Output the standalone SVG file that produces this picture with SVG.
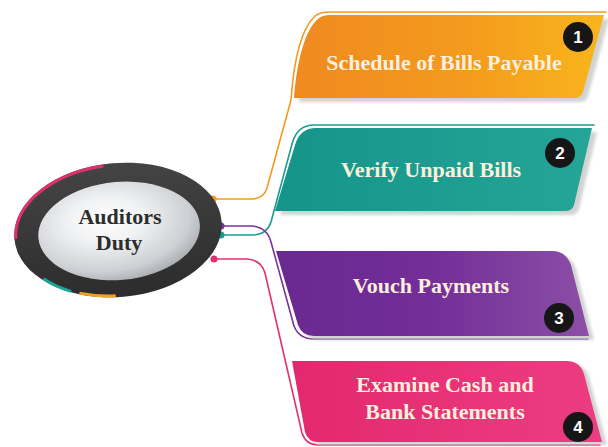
<svg xmlns="http://www.w3.org/2000/svg" width="608" height="447" viewBox="0 0 608 447">
<defs>
<linearGradient id="gOr" x1="0" y1="0" x2="1" y2="0"><stop offset="0" stop-color="#ef8a1f"/><stop offset="0.55" stop-color="#f49a1e"/><stop offset="1" stop-color="#f8b51c"/></linearGradient>
<linearGradient id="gTe" x1="0" y1="0" x2="1" y2="0"><stop offset="0" stop-color="#15958a"/><stop offset="1" stop-color="#24a597"/></linearGradient>
<linearGradient id="gPu" x1="0" y1="0" x2="1" y2="0"><stop offset="0" stop-color="#6a2891"/><stop offset="0.5" stop-color="#732e98"/><stop offset="1" stop-color="#8c4ea6"/></linearGradient>
<linearGradient id="gPi" x1="0" y1="0" x2="1" y2="0"><stop offset="0" stop-color="#e3286f"/><stop offset="1" stop-color="#ec3d82"/></linearGradient>
<linearGradient id="gRing" x1="0" y1="0" x2="0" y2="1"><stop offset="0" stop-color="#444"/><stop offset="1" stop-color="#2c2c2c"/></linearGradient>
<radialGradient id="gIn" cx="0.42" cy="0.38" r="0.65"><stop offset="0" stop-color="#ffffff"/><stop offset="0.35" stop-color="#f1f2f3"/><stop offset="0.8" stop-color="#cdd0d4"/><stop offset="1" stop-color="#a9adb2"/></radialGradient>
<filter id="blur" x="-10%" y="-10%" width="120%" height="130%"><feGaussianBlur stdDeviation="1.6"/></filter>
</defs>
<style>
.shadow{fill:#c4c4c4;opacity:.75;filter:url(#blur)}
.lbl{font-family:"Liberation Serif",serif;font-weight:bold;font-size:22px;fill:#fcefdc;text-anchor:middle}
.badge{fill:#161616}
.num{font-family:"Liberation Sans",sans-serif;font-weight:bold;font-size:17px;fill:#fff;text-anchor:middle}
.con{fill:none;stroke-width:1.6;stroke-linecap:round;stroke-linejoin:round}
.ctr{font-family:"Liberation Serif",serif;font-weight:bold;font-size:22px;fill:#2d2d2d;text-anchor:middle}
.rim{fill:none;stroke-width:3}
</style>

<g id="connectors">
<path class="con" stroke="#f39a22" d="M213 199 L253 199 Q264 198 267 188 L291 100 C294 58 302 28 315 16 Q320 12 329 12 L606 12"/>
<path class="con" stroke="#1a9d90" d="M221 235 L254 235 Q267 234 271 222 L292 144 Q297 125 314 125 L594 125"/>
<path class="con" stroke="#7a3399" d="M221 226 L252 226 Q267 227 271 242 L294 326 Q299 339 314 339 L588 339"/>
<path class="con" stroke="#e3306f" d="M214 259 L247 259 Q261 260 265 273 L302 433 Q306 445 318 445 L600 445"/>
<circle cx="213" cy="199" r="3.5" fill="#f39a22"/>
<circle cx="221" cy="226" r="3.5" fill="#7a3399"/>
<circle cx="221" cy="235" r="3.5" fill="#1a9d90"/>
<circle cx="214" cy="259" r="3.5" fill="#e3306f"/>
</g>

<g id="center">
<g transform="rotate(-5 118 230)">
<ellipse cx="118" cy="230" rx="104" ry="67" fill="url(#gRing)"/>
<path class="rim" stroke="#e0306f" d="M15.5 230 A102.5 65.5 0 0 1 109 164.9"/>
<path class="rim" stroke="#1aa596" d="M39.5 272 A102.5 65.5 0 0 0 66 287"/>
<path class="rim" stroke="#f3a020" d="M74 289.5 A102.5 65.5 0 0 0 110 295.3"/>
<ellipse cx="119" cy="231" rx="81" ry="49" fill="url(#gIn)"/>
</g>
<text class="ctr" x="120" y="224">Auditors</text>
<text class="ctr" x="119" y="250">Duty</text>
</g>

<g id="node1">
<path class="shadow" transform="translate(5,4)" d="M330 15 L604 15 L583 92 Q581 98 574 98 L294 98 C297 60 305 30 318 19 Q322 15 330 15 Z"/>
<path fill="url(#gOr)" d="M330 15 L604 15 L583 92 Q581 98 574 98 L294 98 C297 60 305 30 318 19 Q322 15 330 15 Z"/>
<text class="lbl" x="444" y="70">Schedule of Bills Payable</text>
<circle class="badge" cx="578" cy="37" r="15"/>
<text class="num" x="578" y="43">1</text>
</g>

<g id="node2">
<path class="shadow" transform="translate(5,4)" d="M316 128 L592 128 L574 205 Q572 211 565 211 L275 211 L295 145 Q300 128 316 128 Z"/>
<path fill="url(#gTe)" d="M316 128 L592 128 L574 205 Q572 211 565 211 L275 211 L295 145 Q300 128 316 128 Z"/>
<text class="lbl" x="431" y="177">Verify Unpaid Bills</text>
<circle class="badge" cx="560" cy="153" r="15"/>
<text class="num" x="560" y="159">2</text>
</g>

<g id="node3">
<path class="shadow" transform="translate(5,4)" d="M276 251 L552 251 Q566 251 571 265 L589 336 L314 336 Q302 336 298 325 Z"/>
<path fill="url(#gPu)" d="M276 251 L552 251 Q566 251 571 265 L589 336 L314 336 Q302 336 298 325 Z"/>
<text class="lbl" x="431" y="293">Vouch Payments</text>
<circle class="badge" cx="559" cy="318" r="15"/>
<text class="num" x="559" y="324">3</text>
</g>

<g id="node4">
<path class="shadow" transform="translate(5,3)" d="M292 361 L566 361 Q580 361 584 374 L602 442 L318 442 Q308 442 305 432 Z"/>
<path fill="url(#gPi)" d="M292 361 L566 361 Q580 361 584 374 L602 442 L318 442 Q308 442 305 432 Z"/>
<text class="lbl" x="445" y="392">Examine Cash and</text>
<text class="lbl" x="445" y="419">Bank Statements</text>
<circle class="badge" cx="578" cy="427" r="15"/>
<text class="num" x="578" y="433">4</text>
</g>
</svg>
